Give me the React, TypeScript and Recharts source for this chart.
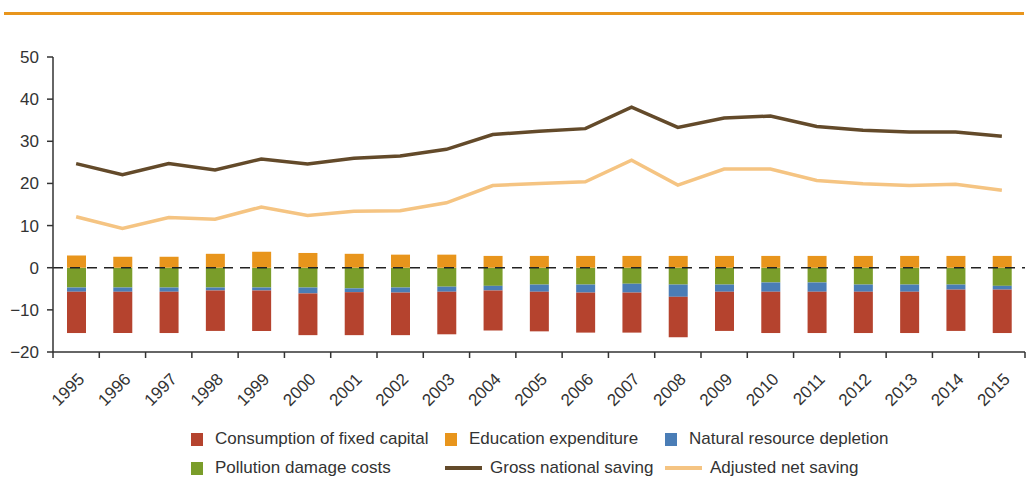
import React from 'react';
import { ComposedChart, Bar, Line, XAxis, YAxis, ReferenceLine } from 'recharts';

const years = ['1995','1996','1997','1998','1999','2000','2001','2002','2003','2004','2005','2006','2007','2008','2009','2010','2011','2012','2013','2014','2015'];
const consumptionFixedCapital = [-9.8,-9.8,-9.8,-9.6,-9.6,-9.9,-10.2,-10.1,-10.1,-9.5,-9.4,-9.5,-9.5,-9.6,-9.3,-9.8,-9.8,-9.8,-9.8,-9.8,-10.3];
const educationExpenditure = [2.9,2.6,2.6,3.3,3.8,3.5,3.3,3.1,3.1,2.8,2.8,2.8,2.8,2.8,2.8,2.8,2.8,2.8,2.8,2.8,2.8];
const naturalResourceDepletion = [-1.0,-1.0,-1.0,-0.7,-0.7,-1.4,-0.9,-1.2,-1.2,-1.1,-1.7,-1.9,-2.1,-2.9,-1.7,-2.2,-2.2,-1.7,-1.7,-1.2,-0.9];
const pollutionDamageCosts = [-4.7,-4.7,-4.7,-4.7,-4.7,-4.7,-4.9,-4.7,-4.5,-4.3,-4.0,-4.0,-3.8,-4.0,-4.0,-3.5,-3.5,-4.0,-4.0,-4.0,-4.3];
const grossNationalSaving = [24.7,22.1,24.7,23.2,25.8,24.6,26.0,26.5,28.1,31.6,32.4,33.0,38.1,33.3,35.5,36.0,33.5,32.6,32.2,32.2,31.2];
const adjustedNetSaving = [12.1,9.3,11.9,11.5,14.4,12.4,13.4,13.5,15.4,19.5,20.0,20.4,25.5,19.6,23.4,23.4,20.7,19.9,19.5,19.8,18.4];
const yTicks = [-20,-10,0,10,20,30,40,50];

const COLORS = {
  cfc: '#B5432E',
  edu: '#E8951C',
  nrd: '#4A7DB6',
  pol: '#7A9D2A',
  gns: '#634A2A',
  ans: '#F5C482',
};

const data = years.map((y, i) => ({
  year: y,
  pol: pollutionDamageCosts[i],
  nrd: naturalResourceDepletion[i],
  cfc: consumptionFixedCapital[i],
  edu: educationExpenditure[i],
  gns: grossNationalSaving[i],
  ans: adjustedNetSaving[i],
}));

const FONT = '"Liberation Sans", Arial, sans-serif';
const TEXT = '#333333';

const XTick = (props: any) => {
  const { x, y, payload, index, visibleTicksCount } = props;
  const half = payload && typeof payload.offset === 'number' && payload.offset > 0 ? payload.offset : 23.1;
  return (
    <g>
      <line x1={x - half} y1={y} x2={x - half} y2={y + 6} stroke="#333" strokeWidth={1.5} />
      {index === visibleTicksCount - 1 && (
        <line x1={x + half} y1={y} x2={x + half} y2={y + 6} stroke="#333" strokeWidth={1.5} />
      )}
      <text
        transform={`translate(${x + 5},${y + 24}) rotate(-45)`}
        textAnchor="end"
        dy="0.35em"
        fontSize={17}
        fontFamily={FONT}
        fill={TEXT}
      >
        {payload.value}
      </text>
    </g>
  );
};

const fmtY = (v: number) => (v < 0 ? '\u2212' + Math.abs(v) : String(v));

const legendRows = [
  [
    { label: 'Consumption of fixed capital', color: COLORS.cfc, type: 'box' },
    { label: 'Education expenditure', color: COLORS.edu, type: 'box' },
    { label: 'Natural resource depletion', color: COLORS.nrd, type: 'box' },
  ],
  [
    { label: 'Pollution damage costs', color: COLORS.pol, type: 'box' },
    { label: 'Gross national saving', color: COLORS.gns, type: 'line' },
    { label: 'Adjusted net saving', color: COLORS.ans, type: 'line' },
  ],
];
const legendCols = [191, 445, 665];

export default function App() {
  return (
    <div style={{ position: 'absolute', left: 0, top: 0, width: 1027, height: 482, background: '#fff', overflow: 'hidden' }}>
      <div style={{ position: 'absolute', left: 4, top: 12, width: 1020, height: 3, background: '#E8951C' }} />
      <div style={{ position: 'absolute', left: 0, top: 0 }}>
        <ComposedChart
          width={1027}
          height={482}
          data={data}
          stackOffset="sign"
          margin={{ top: 57, right: 2, bottom: 70, left: 0 }}
        >
          <XAxis
            dataKey="year"
            type="category"
            height={60}
            axisLine={{ stroke: '#333', strokeWidth: 1.5 }}
            tickLine={false}
            tickSize={0}
            tickMargin={0}
            interval={0}
            tick={<XTick />}
          />
          <YAxis
            width={53}
            domain={[-20, 50]}
            ticks={yTicks}
            interval={0}
            tickFormatter={fmtY}
            axisLine={{ stroke: '#333', strokeWidth: 1.5 }}
            tickLine={{ stroke: '#333', strokeWidth: 1.5 }}
            tickSize={6}
            tickMargin={8}
            tick={{ fontSize: 17, fontFamily: FONT, fill: TEXT }}
          />
          <Bar dataKey="pol" stackId="s" fill={COLORS.pol} barSize={19} isAnimationActive={false} />
          <Bar dataKey="nrd" stackId="s" fill={COLORS.nrd} barSize={19} isAnimationActive={false} />
          <Bar dataKey="cfc" stackId="s" fill={COLORS.cfc} barSize={19} isAnimationActive={false} />
          <Bar dataKey="edu" stackId="s" fill={COLORS.edu} barSize={19} isAnimationActive={false} />
          <ReferenceLine y={0} stroke="#222" strokeWidth={1.5} strokeDasharray="10 7" />
          <Line dataKey="gns" stroke={COLORS.gns} strokeWidth={3.5} dot={false} activeDot={false} isAnimationActive={false} />
          <Line dataKey="ans" stroke={COLORS.ans} strokeWidth={3.5} dot={false} activeDot={false} isAnimationActive={false} />
        </ComposedChart>
      </div>
      {legendRows.map((row, r) =>
        row.map((item, c) => (
          <div
            key={`${r}-${c}`}
            style={{
              position: 'absolute',
              left: legendCols[c],
              top: 428 + r * 29,
              height: 22,
              display: 'flex',
              alignItems: 'center',
              fontFamily: FONT,
              fontSize: 17,
              color: TEXT,
              whiteSpace: 'nowrap',
            }}
          >
            {item.type === 'box' ? (
              <span style={{ display: 'inline-block', width: 12, height: 13, background: item.color, marginRight: 12 }} />
            ) : (
              <span style={{ display: 'inline-block', width: 37, height: 4, background: item.color, marginRight: 8 }} />
            )}
            <span>{item.label}</span>
          </div>
        ))
      )}
    </div>
  );
}
